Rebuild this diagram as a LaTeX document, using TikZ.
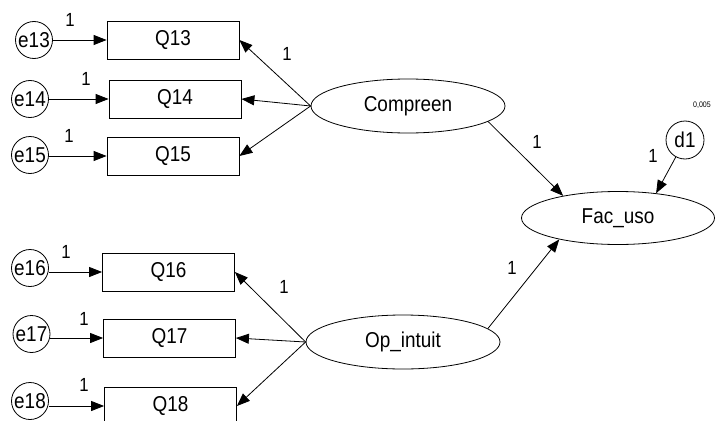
\documentclass[tikz,border=0pt]{standalone}
\usepackage{fontspec}
\setmainfont{Liberation Sans}[FakeStretch=0.88]
\usetikzlibrary{shapes.geometric,arrows.meta}
\begin{document}
\begin{tikzpicture}[x=1pt,y=-1pt,
  every node/.style={font=\fontsize{21.5}{23}\selectfont},
  obs/.style={draw,rectangle,minimum width=132pt,minimum height=38pt,inner sep=0pt,line width=0.8pt},
  err/.style={draw,circle,minimum size=37pt,inner sep=0pt,line width=0.8pt},
  lat/.style={draw,ellipse,minimum width=194pt,minimum height=54pt,inner sep=0pt,line width=0.8pt},
  lab/.style={inner sep=0pt,font=\fontsize{19}{20}\selectfont},
  tiny/.style={inner sep=0pt,font=\fontsize{8}{9}\selectfont},
  arr/.style={-{Triangle[length=13pt,width=10pt]},line width=0.8pt}]
\useasboundingbox (0,0) rectangle (719,420);
% observed
\node[obs] (q13) at (173,40) {Q13};
\node[obs] (q14) at (175,99) {Q14};
\node[obs] (q15) at (173,156) {Q15};
\node[obs] (q16) at (168.5,272) {Q16};
\node[obs] (q17) at (169.5,338) {Q17};
\node[obs] (q18) at (170.5,406) {Q18};
% errors
\node[err] (e13) at (34,40) {e13};
\node[err] (e14) at (30,99) {e14};
\node[err] (e15) at (30,155) {e15};
\node[err] (e16) at (30,268) {e16};
\node[err] (e17) at (31.5,334) {e17};
\node[err] (e18) at (30,401) {e18};
\node[err,minimum size=38pt] (d1) at (685,140) {d1};
% latent
\node[lat] (comp) at (408,106) {Compreen};
\node[lat] (op) at (403,342) {Op\_intuit};
\node[lat,minimum width=193pt,minimum height=53pt] (fac) at (618,218) {Fac\_uso};
% arrows
\foreach \e/\q in {e13/q13,e14/q14,e15/q15,e16/q16,e17/q17,e18/q18}
  \draw[arr] (\e.east |- \q.west) -- (\q.west);
\foreach \q in {q13,q14,q15}
  \draw[arr] (comp.west) -- (\q.east);
\foreach \q in {q16,q17,q18}
  \draw[arr] (op.west) -- (\q.east);
\draw[arr] (comp.-11) -- (fac.158);
\draw[arr] (op.9) -- (fac.200);
\draw[arr] (d1) -- (fac.33);
% labels
\node[lab] (l13) at (70,20) {1};
\node[lab] (l14) at (86,79) {1};
\node[lab] (l15) at (69,136) {1};
\node[lab] (l16) at (66,252) {1};
\node[lab] (l17) at (84,319) {1};
\node[lab] (l18) at (84,385) {1};
\node[lab] (lc) at (287,54) {1};
\node[lab] (lo) at (284,287) {1};
\node[lab] (lcf) at (537,142) {1};
\node[lab] (lof) at (512,268) {1};
\node[lab] (ld) at (653,156) {1};
\node[tiny] (v) at (702,105) {0,005};
\end{tikzpicture}
\end{document}
